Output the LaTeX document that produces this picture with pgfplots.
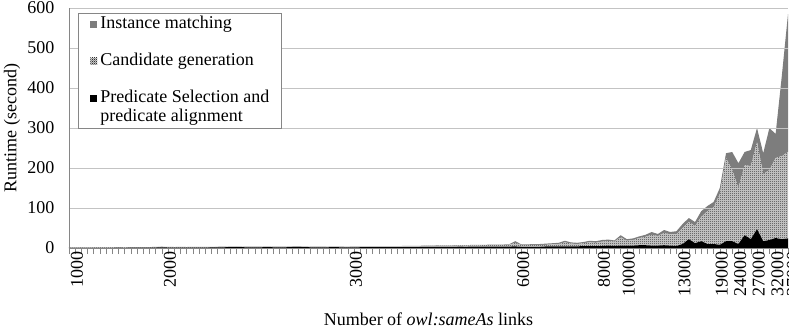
\documentclass[border=0pt]{standalone}
\usepackage{fontspec}
\setmainfont{Liberation Serif}
\usepackage{pgfplots}
\pgfplotsset{compat=1.18}
\usepackage{pgfplotstable}
\usetikzlibrary{patterns.meta}
\definecolor{axgray}{RGB}{134,134,134}
\definecolor{gridgray}{RGB}{195,195,195}
\definecolor{imgray}{RGB}{125,125,125}
\definecolor{cgback}{RGB}{212,212,212}
\pgfdeclarepattern{
  name=finecheck,
  type=uncolored,
  bottom left={\pgfpoint{0pt}{0pt}},
  top right={\pgfpoint{2pt}{2pt}},
  tile size={\pgfpoint{2pt}{2pt}},
  code={
    \pgfpathrectangle{\pgfpointorigin}{\pgfpoint{1pt}{1pt}}
    \pgfpathrectangle{\pgfpoint{1pt}{1pt}}{\pgfpoint{1pt}{1pt}}
    \pgfusepath{fill}
  }
}
\pgfplotstableread{
i ps cg im
0 0.5 0.6 0.3
1 0.5 0.6 0.3
2 0.6 0.7 0.3
3 0.5 0.6 0.3
4 0.6 0.7 0.3
5 0.5 0.8 0.3
6 0.6 0.7 0.3
7 0.6 0.8 0.3
8 0.7 0.8 0.4
9 0.6 0.8 0.4
10 0.7 0.9 0.4
11 0.7 0.8 0.4
12 0.8 0.9 0.4
13 0.9 1.0 0.4
14 1.2 1.2 0.5
15 1.5 1.2 0.5
16 1.2 1.0 0.5
17 1.0 1.0 0.5
18 1.1 1.0 0.5
19 1.0 1.0 0.5
20 1.2 1.1 0.5
21 1.1 1.0 0.5
22 1.2 1.1 0.5
23 1.3 1.1 0.5
24 1.5 1.1 0.5
25 1.8 1.2 0.5
26 2.2 1.2 0.5
27 2.5 1.3 0.6
28 2.0 1.2 0.5
29 1.6 1.2 0.5
30 1.5 1.2 0.5
31 1.8 1.3 0.5
32 2.3 1.3 0.6
33 1.8 1.2 0.5
34 1.6 1.2 0.5
35 1.8 1.3 0.5
36 2.5 1.4 0.6
37 2.8 1.4 0.6
38 2.2 1.3 0.5
39 1.8 1.3 0.5
40 1.6 1.3 0.5
41 1.7 1.3 0.5
42 1.9 1.4 0.5
43 2.0 1.5 0.5
44 1.8 1.5 0.5
45 1.7 1.5 0.5
46 1.8 1.6 0.5
47 1.9 1.6 0.6
48 2.0 1.7 0.6
49 2.2 1.8 0.6
50 2.0 1.8 0.6
51 2.1 1.9 0.6
52 2.3 2.0 0.6
53 2.2 2.0 0.6
54 2.3 2.1 0.7
55 2.5 2.2 0.7
56 2.4 2.3 0.7
57 2.6 2.4 0.7
58 2.7 2.5 0.8
59 2.8 2.6 0.8
60 3.0 2.8 0.8
61 2.9 2.9 0.8
62 3.0 3.0 0.9
63 3.2 3.2 0.9
64 3.1 3.3 0.9
65 3.2 3.4 1.0
66 3.3 3.5 1.0
67 3.4 3.6 1.0
68 3.5 3.8 1.0
69 3.6 3.9 1.0
70 3.5 4.0 1.1
71 3.6 4.5 1.2
72 4 9 4
73 3 4 2
74 3 4 2
75 3 5 2
76 3 5 2
77 4 4 3
78 4 5 3
79 4 6 3
80 4 10 4
81 4 7 3
82 4 6 3
83 5 7 3
84 5 9 4
85 5 8 4
86 5 11 4
87 6 11 4
88 5 11 3
89 6 21 5
90 6 12 4
91 6 14 4
92 7 18 4
93 7 21 5
94 6 27 7
95 6 24 5
96 7 31 7
97 6 28 6
98 5 29 8
99 10 40 10
100 22 43 10
101 12 43 10
102 17 61 14
103 10 82 13
104 10 92 13
105 8 127 15
106 17 208 12
107 17 178 45
108 10 140 62
109 32 175 33
110 22 183 40
111 47 218 35
112 17 168 52
113 20 175 105
114 25 200 60
115 22 208 200
116 24 216 345
}\data
\begin{document}
\begin{tikzpicture}[font=\fontsize{18}{19}\selectfont]
\begin{axis}[
  at={(0pt,0pt)}, anchor=south west,
  scale only axis, width=719pt, height=240pt,
  xmin=0, xmax=116, ymin=0, ymax=600,
  stack plots=y, area style,
  axis x line*=bottom, axis y line*=left,
  axis line style={-, draw=axgray, line width=0.8pt},
  /pgf/number format/assume math mode=true,
  ytick={0,100,...,600},
  ymajorgrids, grid style={gridgray, line width=0.9pt},
  ytick style={draw=none},
  yticklabel style={xshift=-5pt},
  xtick={0,...,116}, xticklabels={},
  tick align=outside, major tick length=6pt,
  xtick style={draw=axgray, line width=0.6pt},
  extra x ticks={0,15,45,72,85,89,98,104,107,110,113,116},
  extra x tick labels={1000,2000,3000,6000,8000,10000,13000,19000,24000,27000,32000,\raisebox{6pt}{37000}},
  extra x tick style={major tick length=0pt, grid=none, xticklabel style={rotate=90, anchor=east, yshift=-8pt}},
  xlabel={Number of \textit{owl:sameAs} links},
  ylabel={Runtime (second)},
  xlabel style={at={(axis description cs:0.5,-0.296)}, anchor=center},
  ylabel style={at={(axis description cs:-0.0793,0.5)}, anchor=center},
  reverse legend,
  legend cell align=left,
  legend image code/.code={\path[#1,draw=none] (0pt,-3.0pt) rectangle (7pt,4.0pt);},
  legend style={at={(axis description cs:0.0125,0.978)}, anchor=north west,
    draw=axgray, line width=0.8pt, fill=white, inner xsep=12pt, inner ysep=2.4pt,
    row sep=1.5pt, column sep=3pt, nodes={inner sep=0pt, text height=12.5pt, text depth=4.5pt},
    font=\fontsize{18}{19}\selectfont},
]
\addlegendimage{empty legend}
\addlegendentry{predicate alignment}
\addplot[fill=black, draw=none] table[x=i,y=ps]{\data} \closedcycle;
\addlegendentry{Predicate Selection and}
\addlegendimage{empty legend}
\addlegendentry{\mbox{}}
\addplot[preaction={fill=cgback}, pattern=finecheck, pattern color=black!80, draw=none] table[x=i,y=cg]{\data} \closedcycle;
\addlegendentry{Candidate generation}
\addlegendimage{empty legend}
\addlegendentry{\mbox{}}
\addplot[fill=imgray, draw=none] table[x=i,y=im]{\data} \closedcycle;
\addlegendentry{Instance matching}
\end{axis}
\pgfresetboundingbox
\path[use as bounding box] (-69pt,-85pt) rectangle (720pt,248pt);
\end{tikzpicture}
\end{document}
